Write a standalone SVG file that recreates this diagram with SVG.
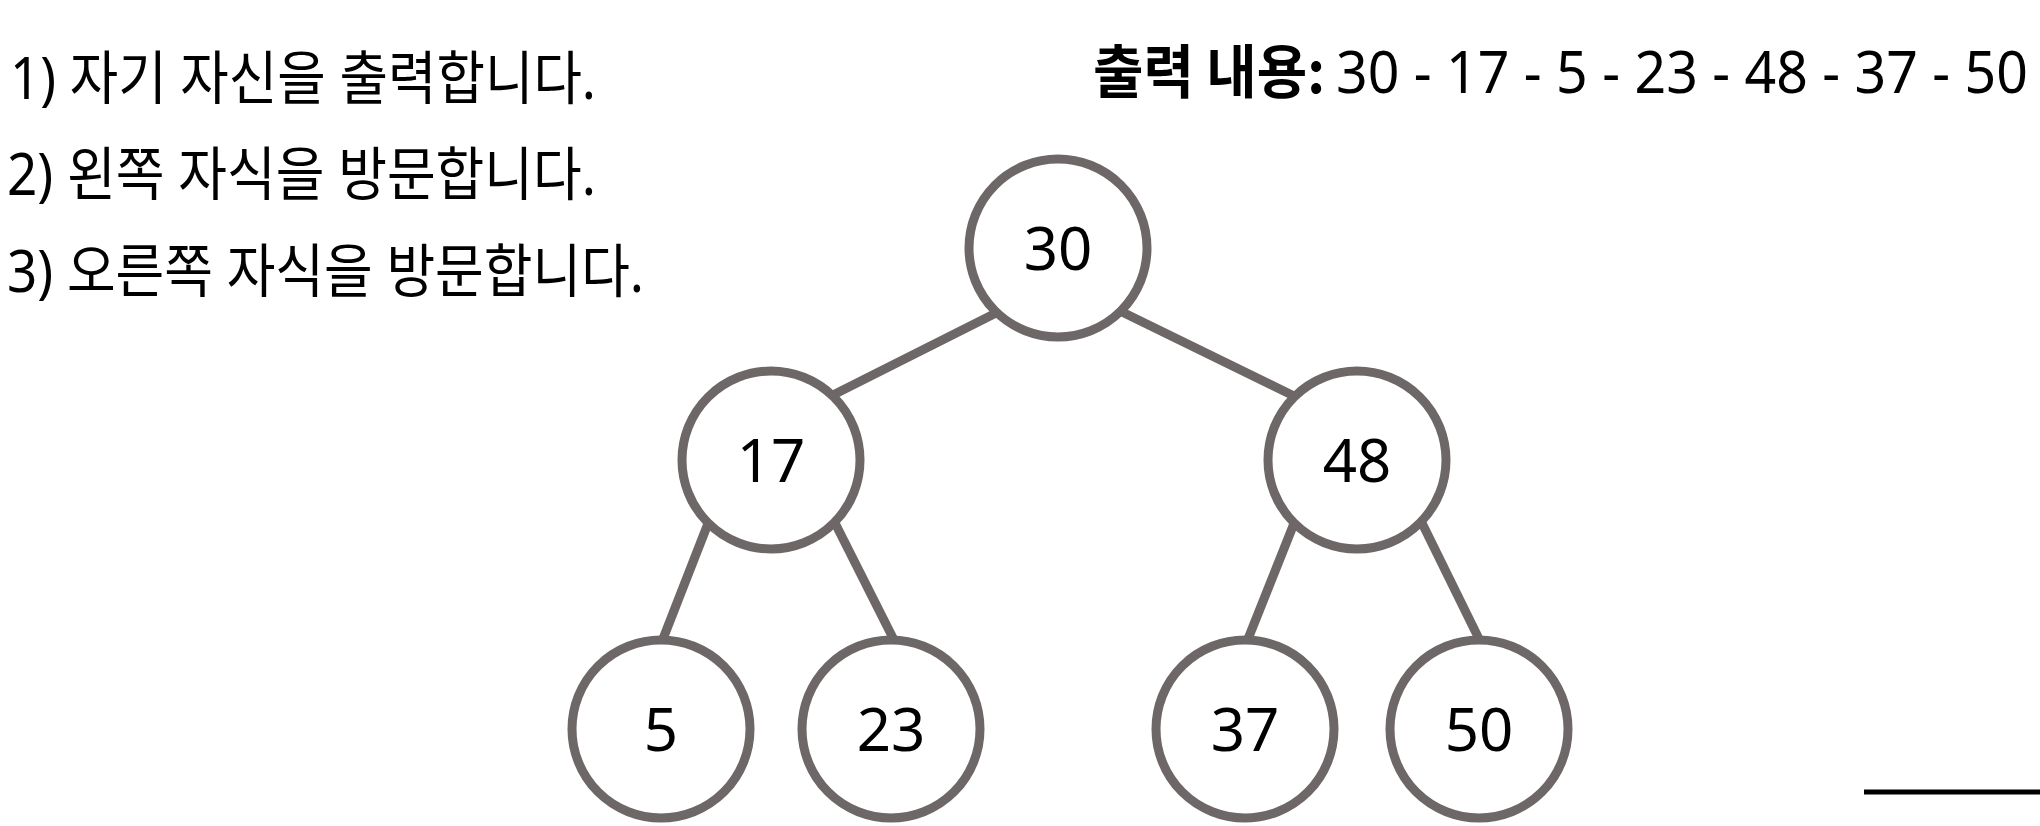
<svg xmlns="http://www.w3.org/2000/svg" width="2040" height="826" viewBox="0 0 2040 826">
<style>
.edge{stroke:#6e6767;stroke-width:9;fill:none}
.node{fill:#ffffff;stroke:#6e6767;stroke-width:9}
.lbl{font-family:"Noto Sans","Noto Sans CJK KR",sans-serif;font-size:60px;fill:#000;text-anchor:middle}
.txt{font-family:"Noto Sans","Noto Sans CJK KR",sans-serif;font-size:58px;fill:#000}
.bold{font-family:"Noto Sans CJK KR","Noto Sans",sans-serif;font-weight:700}
</style>
<rect width="2040" height="826" fill="#ffffff"/>
<g id="rules">
<text class="txt" x="10" y="99" textLength="586" lengthAdjust="spacingAndGlyphs">1) 자기 자신을 출력합니다.</text>
<text class="txt" x="7" y="195" textLength="589" lengthAdjust="spacingAndGlyphs">2) 왼쪽 자식을 방문합니다.</text>
<text class="txt" x="7" y="292" textLength="637" lengthAdjust="spacingAndGlyphs">3) 오른쪽 자식을 방문합니다.</text>
</g>
<g id="output">
<text class="txt bold" x="1093" y="93" textLength="232" lengthAdjust="spacingAndGlyphs">출력 내용:</text>
<text class="txt" x="1336" y="93" font-size="55" textLength="692" lengthAdjust="spacingAndGlyphs">30 - 17 - 5 - 23 - 48 - 37 - 50</text>
</g>
<g id="connectors">
<line class="edge" x1="998" y1="312" x2="831" y2="396"/>
<line class="edge" x1="1118" y1="310" x2="1298" y2="398"/>
<line class="edge" x1="709" y1="521" x2="661" y2="644"/>
<line class="edge" x1="834" y1="521" x2="896" y2="644"/>
<line class="edge" x1="1295" y1="521" x2="1246" y2="644"/>
<line class="edge" x1="1421" y1="521" x2="1481" y2="643"/>
</g>
<g id="node-30"><circle class="node" cx="1058" cy="248" r="89"/><text class="lbl" x="1058" y="270">30</text></g>
<g id="node-17"><circle class="node" cx="771" cy="460" r="89"/><text class="lbl" x="771" y="482">17</text></g>
<g id="node-48"><circle class="node" cx="1357" cy="460" r="89"/><text class="lbl" x="1357" y="482">48</text></g>
<g id="node-5"><circle class="node" cx="661" cy="729" r="89"/><text class="lbl" x="661" y="751">5</text></g>
<g id="node-23"><circle class="node" cx="891" cy="729" r="89"/><text class="lbl" x="891" y="751">23</text></g>
<g id="node-37"><circle class="node" cx="1245" cy="729" r="89"/><text class="lbl" x="1245" y="751">37</text></g>
<g id="node-50"><circle class="node" cx="1479" cy="729" r="89"/><text class="lbl" x="1479" y="751">50</text></g>
<line x1="1864" y1="792" x2="2040" y2="792" stroke="#000" stroke-width="5"/>
</svg>
